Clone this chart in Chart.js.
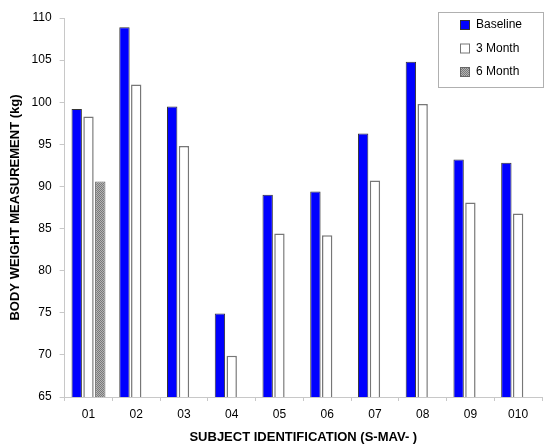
<!DOCTYPE html>
<html>
<head>
<meta charset="utf-8">
<script src="https://cdn.jsdelivr.net/npm/chart.js@4"></script>
<style>
  html, body { margin: 0; padding: 0; background: #fff; }
  #wrap { width: 544px; height: 445px; }
</style>
</head>
<body>
<div id="wrap"><canvas id="chart" width="544" height="445"></canvas></div>
<script>
const subjects = ["01", "02", "03", "04", "05", "06", "07", "08", "09", "010"];
const baseline = [99.2, 108.9, 99.5, 74.9, 89.0, 89.4, 96.3, 104.8, 93.2, 92.8];
const month3 = [98.3, 102.1, 94.8, 69.9, 84.4, 84.2, 90.7, 99.8, 88.1, 86.8];
const month6 = [90.6, null, null, null, null, null, null, null, null, null];
const yTicks = [65, 70, 75, 80, 85, 90, 95, 100, 105, 110];

// dotted gray fill for the 6 month bars
function makePattern() {
  const p = document.createElement('canvas');
  p.width = 2; p.height = 2;
  const c = p.getContext('2d');
  c.fillStyle = '#b4b4b4';
  c.fillRect(0, 0, 2, 2);
  c.fillStyle = '#7a7a7a';
  c.fillRect(0, 0, 1, 1);
  c.fillRect(1, 1, 1, 1);
  return c.createPattern(p, 'repeat');
}
const dots = makePattern();

// boxed legend in the upper right corner
const boxLegend = {
  id: 'boxLegend',
  afterDraw(chart) {
    const ctx = chart.ctx;
    ctx.save();
    ctx.strokeStyle = '#b0b0b0';
    ctx.lineWidth = 1;
    ctx.strokeRect(438.5, 12.5, 105, 75);
    ctx.font = '12px "Liberation Sans", Arial, sans-serif';
    ctx.textBaseline = 'middle';
    chart.data.datasets.forEach((ds, i) => {
      const y = 25 + i * 23.5;
      ctx.fillStyle = ds.backgroundColor;
      ctx.fillRect(460, y - 5, 10, 10);
      ctx.strokeStyle = ds.borderColor;
      ctx.strokeRect(460.5, y - 4.5, 9, 9);
      ctx.fillStyle = '#000';
      ctx.fillText(ds.label, 476, y);
    });
    ctx.restore();
  }
};

new Chart(document.getElementById('chart').getContext('2d'), {
  type: 'bar',
  data: {
    labels: subjects,
    datasets: [
      { label: 'Baseline', data: baseline, backgroundColor: '#0000ff', borderColor: '#333333', borderWidth: 1 },
      { label: '3 Month', data: month3, backgroundColor: '#ffffff', borderColor: '#777777', borderWidth: 1.5 },
      { label: '6 Month', data: month6, backgroundColor: dots, borderColor: '#666666', borderWidth: 1 }
    ]
  },
  options: {
    responsive: false,
    animation: false,
    layout: { padding: { left: 8, right: 2, top: 18, bottom: 0 } },
    datasets: { bar: { categoryPercentage: 0.74, barPercentage: 0.88 } },
    plugins: { legend: { display: false }, tooltip: { enabled: false } },
    scales: {
      x: {
        grid: { display: true, drawOnChartArea: false, offset: true, tickLength: 4, color: '#c8c8c8' },
        border: { color: '#c8c8c8' },
        ticks: { color: '#000', font: { family: '"Liberation Sans", Arial, sans-serif', size: 12 }, padding: 6 },
        title: {
          display: true, text: 'SUBJECT IDENTIFICATION (S-MAV- )', color: '#000',
          font: { family: '"Liberation Sans", Arial, sans-serif', size: 13, weight: 'bold' },
          padding: { top: 2, bottom: 0 }
        }
      },
      y: {
        min: 65, max: 110,
        afterBuildTicks(axis) { axis.ticks = yTicks.map(v => ({ value: v })); },
        grid: { display: true, drawOnChartArea: false, tickLength: 5, color: '#c8c8c8' },
        border: { color: '#c8c8c8' },
        ticks: { color: '#000', font: { family: '"Liberation Sans", Arial, sans-serif', size: 12 }, padding: 8 },
        title: {
          display: true, text: 'BODY WEIGHT MEASUREMENT (kg)', color: '#000',
          font: { family: '"Liberation Sans", Arial, sans-serif', size: 13, weight: 'bold' },
          padding: { top: 0, bottom: 0 }
        }
      }
    }
  },
  plugins: [boxLegend]
});
</script>
</body>
</html>
